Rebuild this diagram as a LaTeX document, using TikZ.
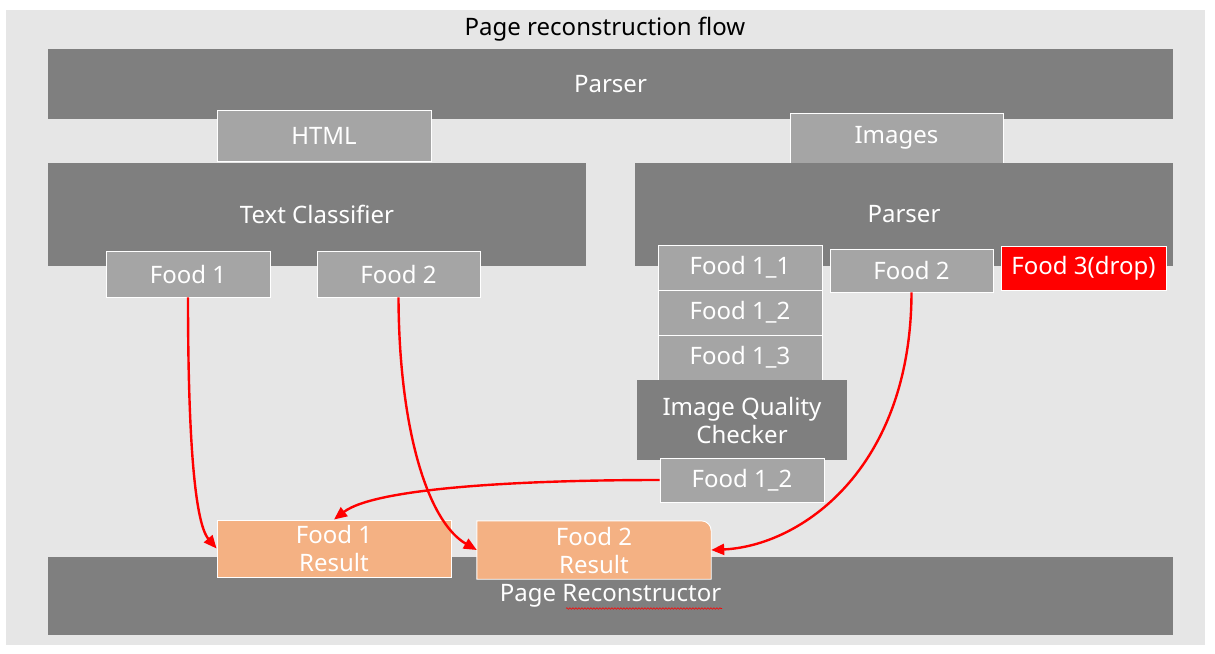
\documentclass[tikz,border=0pt]{standalone}
\usepackage{fontspec}
\setmainfont{Noto Sans}
\usetikzlibrary{arrows.meta,decorations.pathmorphing}
\definecolor{bgc}{HTML}{E6E6E6}
\definecolor{dark}{HTML}{7F7F7F}
\definecolor{light}{HTML}{A5A5A5}
\definecolor{peach}{HTML}{F4B183}
\definecolor{red}{HTML}{FF0000}
\tikzset{
  base/.style={inner sep=0pt, align=center, text=white, font=\fontsize{24}{28}\selectfont},
  bigbox/.style={base, fill=dark},
  foodbox/.style={base, fill=light, draw=white, line width=0.9pt},
  dropbox/.style={base, fill=red, draw=white, line width=0.9pt},
  resbox/.style={base, fill=peach, draw=white, line width=0.9pt},
  flow/.style={draw=red, line width=2.4pt, -{Triangle[length=13pt,width=11pt]}},
}
\begin{document}
\begin{tikzpicture}[x=1pt,y=-1pt]
\useasboundingbox (0,0) rectangle (1215,653);
\fill[bgc] (6,10) rectangle (1205,645);
\node[base, text=black] (title) at (605,29) {Page reconstruction flow};
\node[bigbox, minimum width=1125pt, minimum height=70pt] (parser) at (610.5,84) {Parser};
\node[foodbox, minimum width=214pt, minimum height=51pt] (html) at (324,135.5) {HTML};
\node[foodbox, minimum width=213pt, minimum height=50pt] (images) at (896.5,138) {Images};
\node[bigbox, minimum width=538pt, minimum height=103pt] (tc) at (317,214.5) {Text Classifier};
\node[bigbox, minimum width=538pt, minimum height=103pt] (parser2) at (904,214.5) {Parser};
\node[foodbox, minimum width=164pt, minimum height=46pt] (f1) at (188,274) {Food 1};
\node[foodbox, minimum width=163pt, minimum height=46pt] (f2l) at (398.5,274) {Food 2};
\node[foodbox, minimum width=164pt, minimum height=45pt] (f11) at (740,267.5) {Food 1\_1};
\node[foodbox, minimum width=164pt, minimum height=45pt] (f12) at (740,312.5) {Food 1\_2};
\node[foodbox, minimum width=164pt, minimum height=45pt] (f13) at (740,357.5) {Food 1\_3};
\node[foodbox, minimum width=163pt, minimum height=43pt] (f2r) at (911.5,270.5) {Food 2};
\node[dropbox, minimum width=165pt, minimum height=44pt] (f3) at (1083.5,268) {Food 3(drop)};
\node[bigbox, minimum width=210pt, minimum height=80pt] (iqc) at (742,420) {Image Quality\\Checker};
\node[foodbox, minimum width=164pt, minimum height=44pt] (f12b) at (742,480) {Food 1\_2};
\node[bigbox, minimum width=1125pt, minimum height=78pt] (pr) at (610.5,596) {Page Reconstructor};
\draw[red, line width=0.6pt, decorate, decoration={snake, amplitude=0.8pt, segment length=3pt}] (566,608.5) -- (722,608.5);
\node[resbox, minimum width=234pt, minimum height=57pt] (r1) at (334,548.5) {Food 1\\Result};
\node[base, minimum width=234pt, minimum height=58pt] (r2) at (594,550) {};
\filldraw[fill=peach, draw=white, line width=0.9pt] (r2.north west) -- ([xshift=-10pt]r2.north east) arc[start angle=90, end angle=0, radius=10pt] -- (r2.south east) -- (r2.south west) -- cycle;
\node[base] at (r2.center) {Food 2\\Result};
\draw[flow] (f1.south) .. controls (188,430) and (194,522) .. (r1.west);
\draw[flow] (f2l.south) .. controls (399,430) and (428,522) .. (r2.west);
\draw[flow] (f12b.west) .. controls (520,480) and (375,488) .. (r1.north);
\draw[flow] (f2r.south) .. controls (911,470) and (800,546) .. (r2.east);
\end{tikzpicture}
\end{document}
